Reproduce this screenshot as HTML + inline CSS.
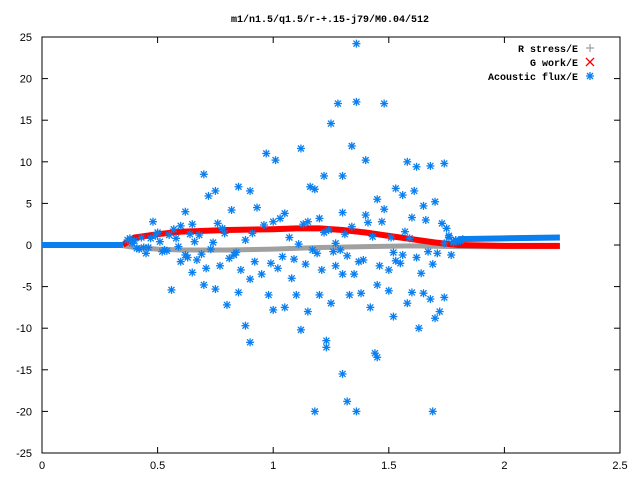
<!DOCTYPE html>
<html><head><meta charset="utf-8"><style>
body{margin:0;background:#fff}
svg text{font-family:"Liberation Sans",sans-serif;font-size:11px;fill:#000}
svg text.mono{font-family:"Liberation Mono",monospace;font-weight:bold;font-size:10px}
</style></head><body>
<svg id="chart" width="640" height="480" xmlns="http://www.w3.org/2000/svg">
<text class="mono" x="330" y="22" text-anchor="middle">m1/n1.5/q1.5/r-+.15-j79/M0.04/512</text>
<rect x="42" y="37" width="578" height="416" fill="none" stroke="#000" stroke-width="1"/>
<g id="ticks"></g><g id="series"></g>
<g>
<text class="mono" x="578" y="52" text-anchor="end">R stress/E</text>
<text class="mono" x="578" y="66" text-anchor="end">G work/E</text>
<text class="mono" x="578" y="80" text-anchor="end">Acoustic flux/E</text>
</g>
</svg>
<script>
const xTicks=[0,0.5,1,1.5,2,2.5];
const xTickLabels=["0","0.5","1","1.5","2","2.5"];
const yTicks=[-25,-20,-15,-10,-5,0,5,10,15,20,25];
const rStressX=[0.33,0.4,0.5,0.6,0.8,1.0,1.2,1.4,1.6,1.8,2.0,2.24];
const rStressY=[0,-0.3,-0.5,-0.6,-0.6,-0.5,-0.3,-0.2,-0.1,-0.2,-0.2,-0.2];
const gWorkX=[0.35,0.4,0.5,0.6,0.8,1.0,1.1,1.2,1.3,1.4,1.5,1.6,1.7,1.8,2.0,2.24];
const gWorkY=[0,0.9,1.3,1.6,1.8,1.9,2.0,2.0,1.8,1.5,1.1,0.7,0.3,0.0,-0.1,-0.1];
const fluxLineX1=[0,0.35];
const fluxLineY1=[0,0];
const fluxLineX2=[1.8,2.0,2.24];
const fluxLineY2=[0.7,0.8,0.9];
const fluxX=[1.36,1.36,1.18,1.69,1.32,1.3,1.44,1.45,0.9,1.23,1.23,1.12,1.28,1.36,1.48,1.25,1.12,0.97,1.01,1.34,1.4,1.58,1.62,1.68,1.74,0.7,1.3,1.22,1.16,1.18,1.53,1.56,1.61,1.65,1.7,0.75,0.72,0.85,0.9,0.82,0.93,0.62,1.05,1.0,1.2,1.4,1.48,1.45,1.3,0.48,0.55,0.6,0.65,
0.56,0.65,0.7,0.75,0.8,0.9,0.95,1.0,1.05,1.1,1.15,1.2,1.25,1.33,1.38,1.42,1.5,1.52,1.58,1.6,1.65,1.68,1.7,1.72,1.63,1.74,1.5,1.55,1.27,1.3,0.6,0.85,0.88,0.98,1.08,1.14,1.35,1.45,1.02,0.77,0.67,
0.4,0.45,0.5,0.52,0.58,0.63,0.68,0.73,0.78,0.83,0.88,0.92,0.96,1.04,1.07,1.13,1.19,1.24,1.29,1.34,1.39,1.43,1.47,1.52,1.57,1.62,1.66,1.71,1.75,1.78,1.8,1.82,1.77,1.73,
0.42,0.47,0.53,0.57,0.62,0.66,0.71,0.76,0.81,0.86,0.91,0.99,1.03,1.09,1.15,1.21,1.26,1.31,1.37,1.41,1.46,1.51,1.56,1.6,1.64,1.69,1.76,1.79,0.38,0.44,
0.37,0.39,0.41,0.43,0.46,0.49,0.51,0.54,0.59,0.64,0.69,0.74,0.79,0.84,1.11,1.17,1.22,1.27,1.32,1.53,1.59,1.67,1.74,1.76,1.78,1.79,1.81];
const fluxY=[24.2,-20,-20,-20,-18.8,-15.5,-13,-13.5,-11.7,-11.5,-12.3,-10.2,17,17.2,17,14.6,11.6,11,10.2,11.9,10.2,10,9.4,9.5,9.8,8.5,8.3,8.3,7,6.7,6.8,6,6.5,4.7,5.2,6.5,5.9,7,6.5,4.2,4.5,4,3.8,2.8,3.2,3.6,4.3,5.5,3.9,2.8,1.2,2.3,2.5,
-5.4,-3.3,-4.8,-5.3,-7.2,-4.1,-3.5,-7.8,-7.5,-6,-8,-6,-7,-6,-5.8,-7.5,-5.5,-8.6,-7,-5.7,-5.8,-6.5,-8.8,-8,-10,-6.3,-3,-2.2,-2.5,-3.5,-2,-5.7,-9.7,-6,-4,-2.3,-3.5,-4.8,-2.8,-2.5,-1.8,
0.5,-1,1.5,-0.8,0.8,-1.5,1.2,-0.5,2.0,-1.2,0.6,-2.0,2.4,-1.4,0.9,2.5,-1.0,1.8,-0.6,2.2,-1.8,1.0,2.8,-0.9,1.6,-1.5,3.0,-1.0,2.0,0.3,0.5,0.7,-1.2,2.6,
-0.5,0.8,-0.6,1.9,-1.2,0.4,-2.8,2.6,-1.6,-3.0,1.4,-2.2,3.2,-1.7,2.8,-3.0,-0.8,1.3,-2.0,2.7,-2.5,0.9,-1.2,3.3,-3.4,-2.3,1.1,0.6,0.8,-0.3,
0.6,0.2,-0.4,0.9,-0.3,1.1,0.4,-0.7,-0.2,1.3,-1.1,0.3,1.4,-0.9,0.1,-0.6,1.5,0.2,-1.3,-1.9,0.8,-0.8,0.2,0.9,0.4,0.6,0.5];
const X0=42,X1=620,Y0=453,Y1=37;
const sx=v=>X0+(v-0)/2.5*(X1-X0);
const sy=v=>Y0-(v+25)/50*(Y0-Y1);
const NS="http://www.w3.org/2000/svg";
function mk(t,a,p){const e=document.createElementNS(NS,t);for(const k in a)e.setAttribute(k,a[k]);p.appendChild(e);return e;}
const tk=document.getElementById('ticks'),sr=document.getElementById('series');
xTicks.forEach((v,i)=>{const x=sx(v);
 const t=mk('line',{x1:x,y1:Y0,x2:x,y2:Y0-6,stroke:'#000'},tk);
 
 
 mk('line',{x1:x,y1:Y1,x2:x,y2:Y1+6,stroke:'#000'},tk);
 const l=mk('text',{x:x,y:Y0+16,'text-anchor':'middle'},tk);l.textContent=xTickLabels[i];
 
 });
yTicks.forEach(v=>{const y=sy(v);
 const t=mk('line',{x1:X0,y1:y,x2:X0+6,y2:y,stroke:'#000'},tk);
 
 
 mk('line',{x1:X1,y1:y,x2:X1-6,y2:y,stroke:'#000'},tk);
 const l=mk('text',{x:X0-10,y:y+4,'text-anchor':'end'},tk);l.textContent=String(v);
 
 });
function line(xs,ys,col,w,name){const p=mk('polyline',{points:xs.map((x,i)=>sx(x)+','+sy(ys[i])).join(' '),fill:'none',stroke:col,'stroke-width':w},sr);
 
 }
function star(x,y,name){const g=mk('g',{stroke:'#0a7ff0','stroke-width':1.3},sr);
 
 
 mk('line',{x1:x-4,y1:y,x2:x+4,y2:y},g);mk('line',{x1:x,y1:y-4,x2:x,y2:y+4},g);
 mk('line',{x1:x-3,y1:y-3,x2:x+3,y2:y+3},g);mk('line',{x1:x-3,y1:y+3,x2:x+3,y2:y-3},g);}
line(rStressX,rStressY,'#a0a0a0',5,'r-stress-series');
line(gWorkX,gWorkY,'#ff0000',6,'g-work-series');
line(fluxLineX1,fluxLineY1,'#0a7ff0',6,'acoustic-flux-inner');
line(fluxLineX2,fluxLineY2,'#0a7ff0',6,'acoustic-flux-outer');
fluxX.forEach((x,i)=>star(sx(x),sy(fluxY[i]),'acoustic-flux-point'));
const lg=mk('g',{},sr);


mk('line',{x1:586,y1:48,x2:594,y2:48,stroke:'#a0a0a0','stroke-width':1.3},lg);
mk('line',{x1:590,y1:44,x2:590,y2:52,stroke:'#a0a0a0','stroke-width':1.3},lg);
mk('line',{x1:586,y1:58,x2:594,y2:66,stroke:'#f00','stroke-width':1.3},lg);
mk('line',{x1:586,y1:66,x2:594,y2:58,stroke:'#f00','stroke-width':1.3},lg);
star(590,76,'legend-flux-marker');
</script>
</body></html>
